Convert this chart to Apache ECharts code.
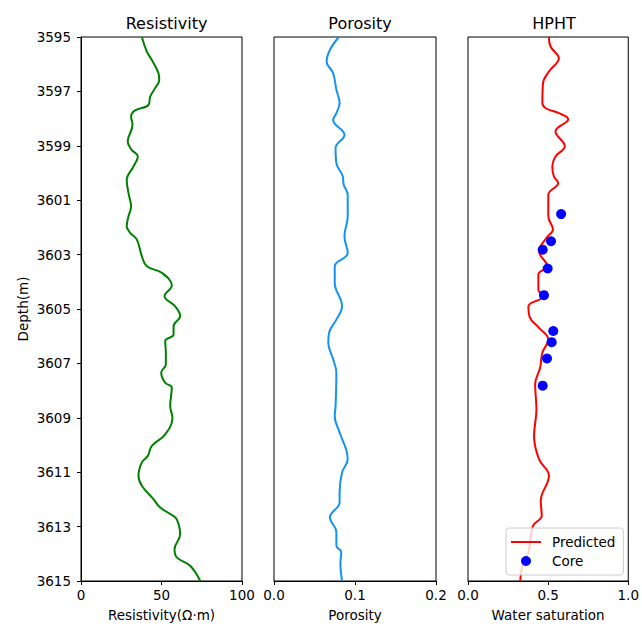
<!DOCTYPE html>
<html>
<head>
<meta charset="utf-8">
<script src="https://cdn.jsdelivr.net/npm/echarts@6/dist/echarts.min.js"></script>
<style>html,body{margin:0;padding:0;background:#fff}#c{width:642px;height:627px}</style>
</head>
<body>
<div id="c"></div>
<script>
// ---- data ----
const panelTitles = ["Resistivity", "Porosity", "HPHT"];
const xAxisNames = ["Resistivity(\u03a9\u00b7m)", "Porosity", "Water saturation"];
const depthTicks = [3595, 3597, 3599, 3601, 3603, 3605, 3607, 3609, 3611, 3613, 3615];

const resDepth = [3595.0,3595.54,3595.84,3596.33,3596.58,3596.88,3597.19,3597.50,3597.70,3597.92,3598.23,3598.84,3599.15,3599.39,3599.76,3600.25,3600.74,3601.23,3601.59,3601.96,3602.20,3602.45,3603.06,3603.43,3603.67,3604.14,3604.53,3604.90,3605.26,3605.63,3605.94,3606.18,3606.61,3607.04,3607.34,3607.71,3607.89,3608.57,3609.00,3609.61,3610.03,3610.40,3610.64,3611.13,3611.50,3611.99,3612.30,3612.66,3612.91,3613.28,3613.83,3614.13,3614.44,3615.0];
const resValue = [37.8,40.9,43.9,48.1,48.6,46.0,43.0,41.9,33.6,31.1,32.0,29.0,31.5,35.3,32.6,28.4,29.5,31.1,29.5,28.4,30.5,34.7,37.8,40.9,50.2,56.4,51.9,58.5,61.6,57.5,57.5,52.3,52.7,52.7,49.8,52.3,56.4,55.4,56.8,52.3,44.0,41.5,37.8,35.7,37.8,45.0,49.2,58.5,60.6,61.6,58.1,59.5,67.8,74.1];

const porDepth = [3595.0,3595.48,3595.91,3596.33,3596.94,3597.43,3597.80,3598.05,3598.60,3599.08,3599.64,3600.13,3600.43,3600.80,3601.59,3602.33,3602.94,3603.43,3604.04,3604.90,3605.39,3605.87,3606.24,3606.85,3607.34,3608.57,3608.93,3609.54,3610.16,3610.52,3611.01,3611.74,3612.11,3612.66,3613.21,3613.70,3613.94,3614.37,3615.0];
const porValue = [0.080,0.069,0.065,0.073,0.077,0.081,0.077,0.073,0.087,0.076,0.077,0.085,0.086,0.091,0.091,0.087,0.091,0.075,0.075,0.084,0.077,0.068,0.067,0.073,0.077,0.076,0.075,0.081,0.089,0.091,0.084,0.081,0.081,0.069,0.077,0.077,0.083,0.082,0.084];

const swDepth = [3595.0,3595.35,3595.78,3596.27,3596.70,3597.43,3597.62,3597.80,3598.02,3598.47,3599.02,3599.39,3599.76,3600.13,3600.37,3600.80,3601.59,3602.08,3602.39,3602.88,3603.43,3603.73,3604.30,3604.53,3604.90,3605.30,3605.69,3606.12,3606.61,3607.16,3607.77,3608.69,3609.67,3610.52,3611.13,3612.05,3612.60,3612.97,3613.94,3614.44,3615.0];
const swPredicted = [0.505,0.515,0.567,0.505,0.468,0.464,0.485,0.567,0.625,0.546,0.604,0.546,0.526,0.536,0.563,0.501,0.501,0.530,0.489,0.443,0.495,0.439,0.439,0.470,0.377,0.385,0.443,0.501,0.464,0.450,0.419,0.427,0.412,0.443,0.505,0.454,0.460,0.406,0.377,0.340,0.326];

const coreDepth = [3601.51,3602.51,3602.82,3603.51,3604.49,3605.81,3606.22,3606.82,3607.82];
const coreValue = [0.581,0.518,0.466,0.497,0.474,0.532,0.522,0.493,0.466];

// ---- chart ----
const FONT = 'DejaVu Sans';
const chart = echarts.init(document.getElementById('c'), null, {renderer: 'svg'});
const grids = [
  {left: 81, top: 37, width: 161, height: 545},
  {left: 274, top: 37, width: 162, height: 545},
  {left: 468, top: 37, width: 162, height: 545}
].map(g => Object.assign(g, {show: true, borderColor: '#000', borderWidth: 1, backgroundColor: 'transparent'}));

const xMax = [100, 0.2, 1.0];
const xInt = [50, 0.1, 0.5];
const xFmt = [v => String(v), v => v.toFixed(1), v => v.toFixed(1)];

const xAxes = [0,1,2].map(i => ({
  type: 'value', gridIndex: i, min: 0, max: xMax[i], interval: xInt[i],
  name: xAxisNames[i], nameLocation: 'middle', nameGap: 27,
  nameTextStyle: {fontFamily: FONT, fontSize: 13.5, color: '#000'},
  axisLine: {show: true, lineStyle: {color: '#000', width: 1}},
  axisTick: {show: true, length: 4, lineStyle: {color: '#000', width: 1}},
  axisLabel: {show: true, margin: 7, fontFamily: FONT, fontSize: 13.5, color: '#000', formatter: xFmt[i], showMinLabel: true, showMaxLabel: true},
  splitLine: {show: false}
}));

const yAxes = [0,1,2].map(i => ({
  type: 'value', gridIndex: i, inverse: true, min: depthTicks[0], max: depthTicks[depthTicks.length-1], interval: 2,
  name: i === 0 ? 'Depth(m)' : '', nameLocation: 'middle', nameGap: 51,
  nameTextStyle: {fontFamily: FONT, fontSize: 13.5, color: '#000'},
  axisLine: {show: i === 0, lineStyle: {color: '#000', width: 1}},
  axisTick: {show: i === 0, length: 4, lineStyle: {color: '#000', width: 1}},
  axisLabel: {show: i === 0, margin: 10, fontFamily: FONT, fontSize: 13.5, color: '#000', formatter: v => String(v), showMinLabel: true, showMaxLabel: true},
  splitLine: {show: false}
}));

const centers = grids.map(g => g.left + g.width / 2);

chart.setOption({
  animation: false,
  backgroundColor: '#fff',
  title: panelTitles.map((t, i) => ({
    text: t, left: centers[i], top: 10, textAlign: 'center',
    textStyle: {fontFamily: FONT, fontSize: 16, fontWeight: 'normal', color: '#000'}
  })),
  grid: grids,
  xAxis: xAxes,
  yAxis: yAxes,
  legend: {
    left: 506, top: 528, orient: 'vertical',
    data: [
      {name: 'Predicted', icon: 'path://M0,0 M30,10 M0,4 L30,4 L30,6 L0,6 Z'},
      {name: 'Core', icon: 'circle'}
    ],
    itemWidth: 30, itemHeight: 10, itemGap: 5,
    padding: [7, 8, 7, 5],
    backgroundColor: 'rgba(255,255,255,0.8)', borderColor: '#cccccc', borderWidth: 1, borderRadius: 3,
    textStyle: {fontFamily: FONT, fontSize: 13.5, color: '#000', padding: [0, 0, 0, 6]}
  },
  series: [
    {type: 'line', xAxisIndex: 0, yAxisIndex: 0, symbol: 'none', smooth: 0.4,
     lineStyle: {color: '#008000', width: 2}, data: resDepth.map((d, k) => [resValue[k], d])},
    {type: 'line', xAxisIndex: 1, yAxisIndex: 1, symbol: 'none', smooth: 0.4,
     lineStyle: {color: '#1393f0', width: 2}, data: porDepth.map((d, k) => [porValue[k], d])},
    {type: 'line', name: 'Predicted', xAxisIndex: 2, yAxisIndex: 2, symbol: 'none', smooth: 0.4,
     itemStyle: {color: '#ff0000'},
     lineStyle: {color: '#ff0000', width: 2}, data: swDepth.map((d, k) => [swPredicted[k], d])},
    {type: 'scatter', name: 'Core', xAxisIndex: 2, yAxisIndex: 2, symbol: 'circle', symbolSize: 10,
     itemStyle: {color: '#0000ff', opacity: 1}, z: 3, data: coreDepth.map((d, k) => [coreValue[k], d])}
  ]
});
</script>
</body>
</html>
